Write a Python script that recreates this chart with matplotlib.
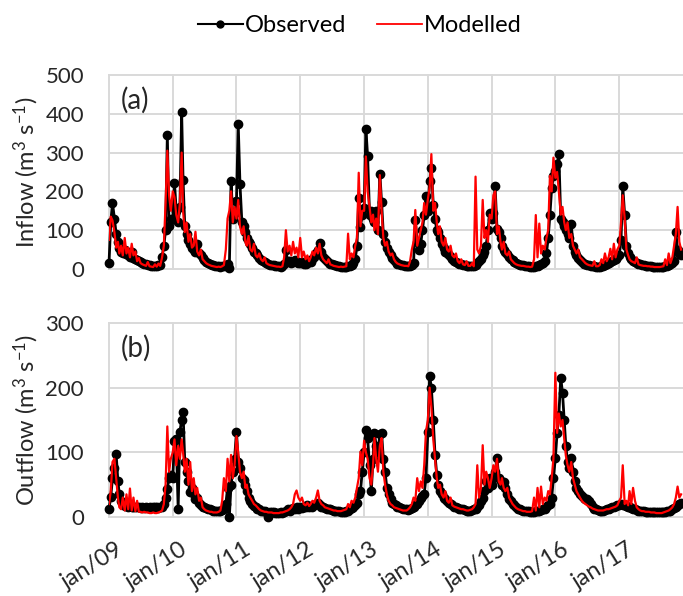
import numpy as np
import pandas as pd
import matplotlib
matplotlib.use("Agg")
import matplotlib.pyplot as plt
import matplotlib.dates as mdates
import matplotlib.transforms as mtransforms
from matplotlib.lines import Line2D

plt.rcParams['font.family'] = ['Lato', 'DejaVu Sans']
plt.rcParams['mathtext.fontset'] = 'custom'
plt.rcParams['mathtext.rm'] = 'Lato'
plt.rcParams['mathtext.it'] = 'Lato:italic'

# === Dekad dates (1st, 11th, 21st of each month), jan/2009 - dec/2017 ===
months = pd.date_range("2009-01-01", "2017-12-01", freq="MS")
dates = [m + pd.Timedelta(days=d) for m in months for d in (0, 10, 20)]
years = pd.date_range("2009-01-01", "2017-01-01", freq="YS")

# === Inflow (m3/s), one row per year, 36 dekads each ===
inflow_obs = [
    15, 120, 170, 130, 90, 70, 55, 45, 40, 50, 38, 35, 30, 45, 28, 25, 22, 20, 17, 15, 13, 12, 10, 9, 8, 8, 7, 8, 9, 10, 30, 60, 100, 345, 110, 130,
    130, 222, 150, 120, 160, 404, 230, 110, 90, 75, 65, 55, 50, 45, 65, 40, 35, 28, 22, 18, 15, 12, 10, 9, 8, 7, 7, 6, 7, 8, 10, 12, 3, 227, 130, 145,
    174, 373, 219, 120, 110, 95, 80, 70, 65, 55, 45, 40, 35, 28, 24, 20, 17, 15, 13, 11, 10, 9, 8, 7, 7, 6, 8, 12, 48, 20, 20, 15, 18, 22, 18, 15,
    15, 18, 14, 12, 15, 20, 18, 25, 30, 40, 50, 68, 45, 30, 25, 20, 16, 14, 12, 10, 9, 8, 7, 6, 6, 5, 6, 7, 8, 10, 15, 25, 60, 183, 108, 140,
    157, 362, 290, 140, 150, 130, 120, 150, 100, 246, 172, 90, 70, 55, 45, 35, 28, 22, 17, 14, 12, 10, 9, 8, 7, 7, 8, 10, 15, 126, 70, 50, 65, 100, 140, 187,
    150, 226, 261, 165, 130, 100, 95, 80, 65, 55, 45, 40, 35, 30, 25, 20, 18, 15, 13, 12, 10, 9, 8, 8, 7, 7, 8, 10, 15, 20, 25, 35, 45, 60, 100, 143,
    130, 143, 213, 104, 95, 80, 60, 50, 43, 38, 30, 25, 22, 18, 15, 13, 11, 10, 9, 8, 7, 7, 6, 6, 6, 7, 8, 10, 12, 15, 20, 40, 80, 140, 209, 239,
    252, 270, 297, 130, 122, 110, 100, 90, 80, 117, 60, 45, 35, 28, 22, 17, 14, 12, 10, 9, 8, 7, 7, 6, 6, 6, 7, 8, 10, 12, 15, 18, 20, 22, 25, 30,
    35, 74, 213, 139, 60, 40, 30, 25, 20, 17, 15, 13, 12, 10, 9, 8, 8, 7, 7, 6, 6, 6, 5, 5, 5, 6, 7, 8, 10, 12, 15, 20, 96, 50, 40, 35,
]
inflow_mod = [
    75, 135, 125, 95, 55, 70, 40, 60, 35, 80, 40, 55, 30, 65, 35, 45, 20, 28, 15, 12, 10, 8, 18, 7, 6, 5, 12, 6, 14, 8, 30, 60, 170, 305, 190, 150,
    200, 185, 140, 120, 170, 300, 150, 95, 120, 70, 90, 55, 60, 96, 45, 35, 50, 25, 20, 15, 12, 10, 8, 7, 6, 5, 6, 5, 7, 10, 50, 130, 150, 200, 120, 160,
    130, 178, 110, 90, 110, 70, 60, 85, 50, 45, 65, 35, 30, 40, 25, 20, 30, 15, 12, 10, 9, 8, 7, 6, 6, 5, 7, 30, 100, 45, 60, 35, 70, 40, 55, 30,
    80, 30, 45, 25, 35, 20, 30, 45, 35, 55, 40, 65, 35, 25, 20, 15, 25, 12, 10, 8, 7, 6, 5, 6, 5, 6, 7, 91, 25, 40, 30, 60, 80, 248, 110, 150,
    150, 290, 200, 160, 120, 140, 100, 130, 90, 242, 150, 80, 60, 70, 45, 35, 40, 25, 18, 14, 12, 10, 9, 8, 8, 7, 20, 50, 70, 152, 60, 80, 100, 120, 170, 140,
    180, 210, 296, 150, 170, 120, 90, 110, 70, 60, 80, 50, 45, 60, 35, 30, 40, 20, 15, 25, 12, 10, 20, 8, 8, 15, 7, 238, 50, 40, 60, 178, 80, 100, 70, 140,
    130, 190, 200, 90, 110, 70, 50, 70, 40, 35, 45, 25, 20, 15, 12, 10, 9, 8, 8, 7, 6, 6, 5, 6, 25, 139, 30, 117, 40, 60, 50, 80, 100, 240, 200, 287,
    235, 250, 200, 140, 160, 120, 100, 120, 80, 90, 60, 50, 40, 50, 30, 25, 20, 15, 12, 10, 9, 8, 20, 7, 7, 10, 25, 15, 40, 20, 30, 52, 25, 65, 30, 50,
    60, 120, 190, 130, 50, 35, 25, 20, 18, 15, 30, 12, 10, 9, 8, 8, 7, 7, 6, 6, 5, 5, 5, 5, 6, 7, 25, 10, 40, 15, 30, 60, 90, 160, 70, 50,
]

# === Outflow (m3/s) ===
outflow_obs = [
    13, 31, 60, 75, 97, 55, 35, 25, 20, 17, 18, 16, 17, 15, 16, 15, 16, 15, 14, 15, 14, 15, 14, 15, 14, 15, 16, 15, 14, 15, 16, 20, 30, 44, 60, 65,
    60, 117, 120, 13, 132, 150, 163, 85, 70, 55, 39, 45, 35, 28, 30, 22, 18, 16, 15, 14, 13, 12, 11, 10, 10, 9, 10, 10, 11, 12, 20, 45, 0, 50, 70, 90,
    132, 85, 75, 60, 57, 50, 40, 30, 25, 20, 17, 15, 13, 12, 10, 10, 9, 8, 0, 8, 7, 7, 6, 6, 6, 7, 6, 8, 10, 12, 10, 12, 14, 12, 15, 13,
    15, 14, 16, 15, 18, 16, 17, 16, 18, 20, 22, 18, 16, 15, 14, 13, 12, 12, 11, 10, 10, 9, 9, 8, 8, 8, 9, 10, 12, 14, 15, 18, 22, 36, 40, 70,
    100, 135, 122, 80, 40, 90, 130, 110, 100, 128, 130, 90, 70, 45, 35, 28, 22, 20, 18, 16, 15, 14, 13, 12, 12, 11, 12, 14, 16, 18, 20, 25, 30, 32, 36, 60,
    132, 218, 200, 150, 96, 65, 49, 40, 35, 30, 28, 25, 22, 20, 18, 16, 15, 14, 13, 12, 12, 11, 10, 10, 10, 11, 12, 13, 15, 18, 25, 30, 40, 55, 45, 60,
    50, 60, 70, 91, 60, 55, 50, 54, 45, 35, 28, 25, 20, 18, 15, 13, 12, 11, 10, 10, 9, 9, 8, 8, 8, 9, 9, 10, 11, 12, 13, 15, 18, 20, 30, 60,
    91, 130, 158, 215, 192, 150, 110, 85, 75, 91, 70, 55, 45, 40, 35, 33, 30, 28, 28, 25, 20, 15, 13, 12, 11, 10, 10, 10, 11, 12, 13, 14, 15, 16, 17, 18,
    18, 20, 19, 18, 17, 16, 15, 14, 13, 12, 11, 10, 10, 9, 9, 8, 8, 8, 8, 7, 7, 7, 7, 7, 7, 8, 8, 9, 10, 10, 12, 14, 15, 18, 20, 22,
]
outflow_mod = [
    20, 40, 85, 90, 60, 30, 15, 12, 30, 10, 35, 12, 44, 10, 30, 9, 25, 8, 8, 7, 8, 7, 7, 6, 6, 7, 6, 6, 7, 8, 10, 20, 50, 140, 70, 90,
    100, 120, 80, 110, 90, 120, 100, 70, 90, 50, 85, 40, 60, 35, 45, 25, 30, 15, 12, 10, 9, 8, 8, 7, 7, 7, 8, 10, 25, 60, 40, 90, 55, 96, 60, 80,
    125, 100, 70, 60, 70, 45, 50, 35, 30, 25, 20, 18, 15, 12, 10, 9, 8, 8, 7, 7, 7, 6, 6, 6, 6, 7, 7, 8, 9, 10, 12, 15, 20, 35, 41, 30,
    25, 30, 20, 18, 22, 17, 20, 25, 22, 30, 41, 25, 20, 18, 15, 14, 13, 12, 11, 10, 10, 9, 9, 9, 10, 11, 12, 20, 15, 25, 22, 30, 45, 60, 101, 80,
    118, 100, 90, 60, 50, 80, 122, 90, 70, 110, 122, 70, 50, 35, 25, 20, 18, 15, 14, 13, 12, 11, 10, 10, 10, 12, 15, 20, 30, 25, 60, 40, 55, 45, 80, 132,
    150, 200, 170, 120, 90, 60, 45, 50, 35, 30, 40, 25, 22, 30, 18, 16, 15, 14, 13, 12, 12, 11, 10, 10, 11, 12, 15, 20, 80, 30, 45, 111, 50, 70, 60, 45,
    60, 80, 70, 90, 55, 50, 60, 45, 40, 45, 30, 25, 20, 17, 14, 12, 11, 10, 9, 9, 8, 8, 8, 9, 30, 10, 45, 15, 47, 20, 30, 25, 40, 35, 60, 90,
    223, 130, 160, 140, 150, 120, 95, 80, 70, 85, 60, 50, 40, 35, 30, 25, 22, 20, 18, 16, 15, 13, 12, 11, 10, 10, 10, 10, 11, 12, 12, 13, 14, 15, 16, 18,
    25, 30, 80, 20, 25, 18, 40, 20, 45, 25, 15, 12, 10, 9, 9, 8, 8, 8, 7, 7, 7, 6, 6, 6, 6, 7, 8, 9, 10, 12, 15, 20, 30, 47, 30, 35,
]

GRID = "#d9d9d9"
TEXT = "#262626"
OBS_STYLE = dict(color="black", lw=2.0, marker="o", ms=6, zorder=2, clip_on=False)
MOD_STYLE = dict(color="#ff0000", lw=1.6, zorder=3)

fig = plt.figure(figsize=(6.83, 5.96), dpi=100)
ax1 = fig.add_axes([0.1596, 0.5487, 0.8404, 0.3255])
ax2 = fig.add_axes([0.1596, 0.1326, 0.8404, 0.3255])


def style_axis(ax, ymax, ylabel, tag):
    ax.set_xlim(pd.Timestamp("2009-01-01"), pd.Timestamp("2018-01-01"))
    ax.set_ylim(0, ymax)
    ax.set_yticks(range(0, ymax + 1, 100))
    ax.set_xticks(years)
    ax.xaxis.set_major_formatter(mdates.DateFormatter("jan/%y"))
    ax.grid(True, color=GRID, lw=1.4)
    ax.set_axisbelow(True)
    for gl in ax.get_xgridlines() + ax.get_ygridlines():
        gl.set_clip_on(False)
    for s in ax.spines.values():
        s.set_visible(False)
    ax.tick_params(length=0, labelsize=16, colors=TEXT)
    ax.tick_params(axis="y", pad=18)
    ax.set_ylabel(ylabel, fontsize=17, labelpad=3, color=TEXT)
    ax.text(0.02, 0.94, tag, transform=ax.transAxes, fontsize=20, va="top", color=TEXT)


ax1.plot(dates, inflow_obs, **OBS_STYLE)
ax1.plot(dates, inflow_mod, **MOD_STYLE)
style_axis(ax1, 500, r"Inflow (m$^{3}$ s$^{-1}$)", "(a)")
ax1.tick_params(axis="x", labelbottom=False)

ax2.plot(dates, outflow_obs, **OBS_STYLE)
ax2.plot(dates, outflow_mod, **MOD_STYLE)
style_axis(ax2, 300, r"Outflow (m$^{3}$ s$^{-1}$)", "(b)")
ax2.tick_params(axis="x", pad=16, labelsize=17)
shift = mtransforms.ScaledTranslation(7 / 100, 0, fig.dpi_scale_trans)
for lab in ax2.get_xticklabels():
    lab.set_rotation(32)
    lab.set_ha("right")
    lab.set_rotation_mode("anchor")
    lab.set_transform(lab.get_transform() + shift)

handles = [Line2D([], [], color="black", lw=1.5, marker="o", ms=5),
           Line2D([], [], color="#ff0000", lw=1.3)]
fig.legend(handles, ["Observed", "Modelled"], loc="center", bbox_to_anchor=(0.527, 0.957),
           ncol=2, frameon=False, fontsize=17, handlelength=1.9, handletextpad=0.1,
           columnspacing=1.3)

fig.savefig("out.png", dpi=100)
